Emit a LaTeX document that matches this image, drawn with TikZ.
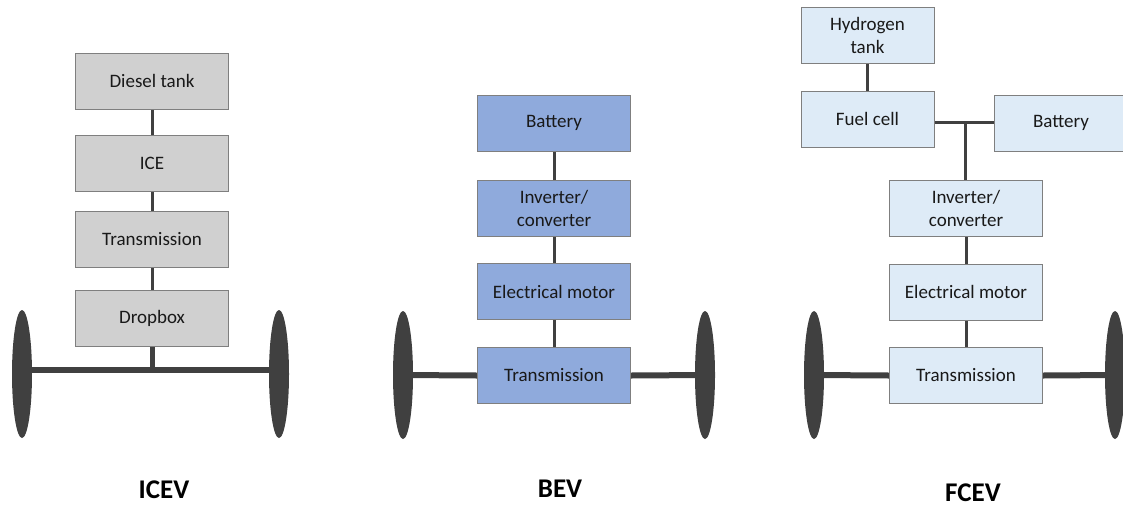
\documentclass[tikz,border=0pt]{standalone}
\usepackage{fontspec}
\setmainfont{Carlito}
\usetikzlibrary{shapes.geometric,backgrounds}
\definecolor{icegray}{HTML}{D0D0D0}
\definecolor{bevblue}{HTML}{8FAADC}
\definecolor{fcblue}{HTML}{DEEBF7}
\definecolor{edgegray}{HTML}{7F7F7F}
\definecolor{dark}{HTML}{404040}
\tikzset{
  comp/.style={draw=edgegray, line width=0.8pt, minimum width=153pt, minimum height=56pt,
    inner sep=0pt, align=center, font=\fontsize{19}{23}\selectfont, text=black!90},
  icebox/.style={comp, fill=icegray},
  bevbox/.style={comp, fill=bevblue},
  fcbox/.style={comp, fill=fcblue},
  wheel/.style={ellipse, fill=dark, draw=none, minimum width=20pt, minimum height=128pt, inner sep=0pt},
  link/.style={draw=dark, line width=3pt},
  axle/.style={draw=dark, line width=6pt},
  title/.style={font=\fontsize{27}{30}\selectfont\bfseries}
}
\begin{document}
\begin{tikzpicture}[x=1pt,y=-1pt]
\useasboundingbox (0,0) rectangle (1123,509);
\clip (0,0) rectangle (1123,509);
% ICEV
\node[icebox] (dt) at (152,81) {Diesel tank};
\node[icebox] (ice) at (152,163.5) {ICE};
\node[icebox] (itr) at (152,239.5) {Transmission};
\node[icebox] (db) at (152,318.5) {Dropbox};
\coordinate (iax) at (152,370);
\node[wheel] (ilw) at (22,374) {};
\node[wheel] (irw) at (279,374) {};
\node[title] (ticev) at (164,490) {ICEV};
% BEV
\node[bevbox] (bb) at (554,123) {Battery};
\node[bevbox] (binv) at (554,208.5) {Inverter/\\converter};
\node[bevbox] (bem) at (554,291.5) {Electrical motor};
\node[bevbox] (btr) at (554,375.5) {Transmission};
\node[wheel] (blw) at (403,375) {};
\node[wheel] (brw) at (705,375) {};
\node[title] (tbev) at (560,489) {BEV};
% FCEV
\node[fcbox, minimum width=133pt] (ht) at (867.5,35.5) {Hydrogen\\tank};
\node[fcbox, minimum width=133pt] (fc) at (867.5,119) {Fuel cell};
\node[fcbox, minimum width=160pt] (fb) at (1074,123) {\hspace*{-26pt}Battery};
\coordinate (fj) at (965,122);
\node[fcbox] (finv) at (966,208.5) {Inverter/\\converter};
\node[fcbox] (fem) at (966,292) {Electrical motor};
\node[fcbox] (ftr) at (966,375.5) {Transmission};
\node[wheel] (flw) at (814,375) {};
\node[wheel] (frw) at (1115,375) {};
\node[title] (tfcev) at (973,493) {FCEV};
\begin{scope}[on background layer]
  % ICEV
  \draw[link] (dt) -- (ice);
  \draw[link] (ice) -- (itr);
  \draw[link] (itr) -- (db);
  \draw[draw=dark, line width=5pt] (db.south) -- (iax);
  \draw[axle] (iax -| ilw.center) -- (iax -| irw.center);
  % BEV
  \draw[link] (bb) -- (binv);
  \draw[link] (binv) -- (bem);
  \draw[link] (bem) -- (btr);
  \draw[axle] (blw.center) -- (btr.west);
  \draw[axle] (btr.east) -- (brw.center);
  % FCEV
  \draw[link] (ht) -- (fc);
  \draw[link] (fj -| fc.east) -- (fj -| fb.west);
  \draw[link] (fj) -- (fj |- finv.north);
  \draw[link] (finv) -- (fem);
  \draw[link] (fem) -- (ftr);
  \draw[axle] (flw.center) -- (ftr.west);
  \draw[axle] (ftr.east) -- (frw.center);
\end{scope}
\end{tikzpicture}
\end{document}
